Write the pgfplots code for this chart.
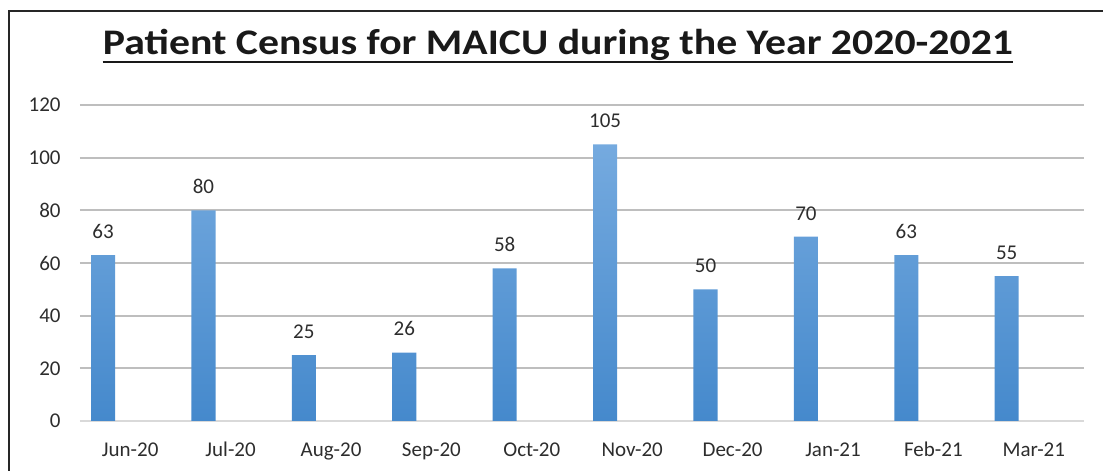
\documentclass[border=0pt]{standalone}
\usepackage{fontspec}
\setmainfont{Carlito}
\newfontfamily\titlefont[FakeStretch=1.16]{Carlito}
\usepackage{pgfplots}
\pgfplotsset{compat=1.18}
\definecolor{bartop}{RGB}{117,170,223}
\definecolor{barbottom}{RGB}{69,137,204}
\definecolor{gridgray}{RGB}{190,190,190}
\definecolor{axisgray}{RGB}{217,217,217}
\definecolor{labelgray}{RGB}{45,45,45}

\begin{document}
\begin{tikzpicture}
\useasboundingbox (-40pt,-25pt) rectangle (511.5pt,210.5pt);
\begin{axis}[
    scale only axis,
    width=502pt, height=158pt,
    xmin=-0.5, xmax=9.5,
    ymin=0, ymax=120,
    ybar, bar width=0.24, bar shift=-0.27,
    xtick={0,...,9},
    xticklabels={Jun-20,Jul-20,Aug-20,Sep-20,Oct-20,Nov-20,Dec-20,Jan-21,Feb-21,Mar-21},
    ytick={20,40,...,120},
    extra y ticks={0},
    extra y tick style={grid style={color=axisgray, line width=1pt}},
    ymajorgrids,
    grid style={color=gridgray, line width=1pt},
    axis line style={draw=none},
    major tick length=0pt,
    tick label style={font=\fontsize{10.5}{12}\selectfont, text=labelgray},
    /pgf/number format/assume math mode=true,
    yticklabel style={anchor=east, inner sep=0pt, xshift=-9.5pt},
    xticklabel style={anchor=north, inner sep=0pt, yshift=-10.5pt},
    nodes near coords,
    nodes near coords style={font=\fontsize{10.5}{12}\selectfont, text=labelgray,
        inner sep=0pt, anchor=south, yshift=8pt},
    clip=false,
]
\addplot[draw=none, top color=bartop, bottom color=barbottom] coordinates {
    (0,63) (1,80) (2,25) (3,26) (4,58)
    (5,105) (6,50) (7,70) (8,63) (9,55)
};
\end{axis}
\draw[line width=1pt, black!85] (-35.5pt,-30pt) -- (-35.5pt,204.75pt) -- (520pt,204.75pt);
\node[anchor=base, inner sep=0pt, font=\titlefont\fontsize{18}{22}\selectfont\bfseries, text=black!90]
    (title) at (239pt,183pt) {Patient Census for MAICU during the Year 2020-2021};
\draw[line width=1.3pt, black!90] ([yshift=-3.5pt]title.base west) -- ([yshift=-3.5pt]title.base east);
\end{tikzpicture}
\end{document}
